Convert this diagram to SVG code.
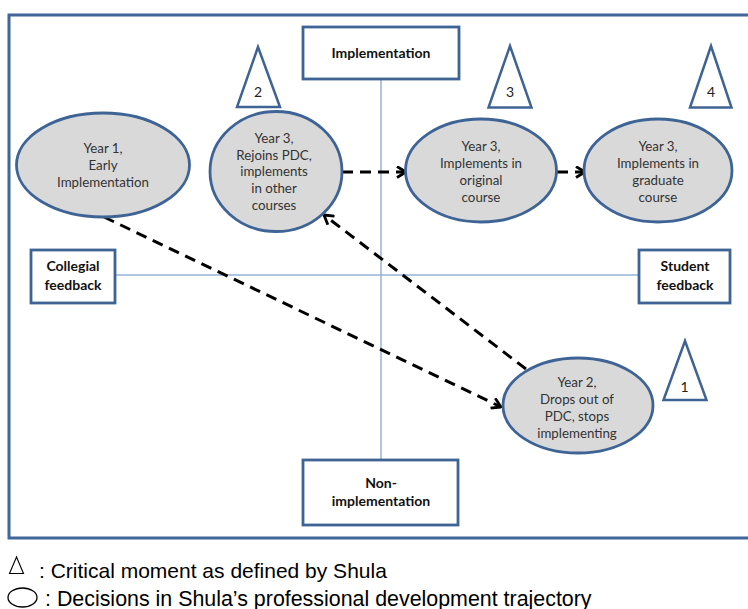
<svg xmlns="http://www.w3.org/2000/svg" width="748" height="609" viewBox="0 0 748 609">
<style>
.frame{fill:none;stroke:#41669b;stroke-width:3}
.axis{stroke:#95b3d7;stroke-width:1.5;fill:none}
.box{fill:#fff;stroke:#3f6494;stroke-width:2.8}
.tri{fill:#fff;stroke:#3f6494;stroke-width:2.5;stroke-linejoin:miter}
.ell{fill:#d9d9d9;stroke:#3e6395;stroke-width:2.8}
.bt{font-family:Lato,"Liberation Sans",sans-serif;font-weight:bold;font-size:14px;fill:#111;text-anchor:middle}
.et{font-family:Lato,"Liberation Sans",sans-serif;font-size:13.3px;fill:#333;text-anchor:middle}
.num{font-family:Lato,"Liberation Sans",sans-serif;font-size:14px;fill:#222;text-anchor:middle}
.conn{fill:none;stroke:#000;stroke-width:3;stroke-dasharray:11 7}
.leg{font-family:"Liberation Sans",Arial,sans-serif;font-size:21px;fill:#000}
</style>
<defs>
<marker id="chev" viewBox="0 0 11 13" refX="10" refY="6.5" markerWidth="11" markerHeight="13" markerUnits="userSpaceOnUse" orient="auto">
<path d="M1,1 L10,6.5 L1,12" fill="none" stroke="#000" stroke-width="2.8"/>
</marker>
</defs>
<rect class="frame" x="9" y="15" width="760" height="523"/>
<g id="axes">
<line class="axis" x1="381" y1="79" x2="381" y2="460"/>
<line class="axis" x1="115" y1="275" x2="639" y2="275"/>
</g>
<g id="connectors">
<line class="conn" x1="342" y1="172" x2="406" y2="172" marker-end="url(#chev)"/>
<line class="conn" x1="557" y1="172" x2="585" y2="172" marker-end="url(#chev)"/>
<line class="conn" x1="104" y1="217" x2="501" y2="407" marker-end="url(#chev)"/>
<line class="conn" x1="526" y1="369" x2="324" y2="215" marker-end="url(#chev)"/>
</g>
<g id="implementation">
<rect class="box" x="303" y="27" width="156" height="52"/>
<text class="bt" x="381" y="57.5">Implementation</text>
</g>
<g id="non-implementation">
<rect class="box" x="303" y="460" width="155" height="65"/>
<text class="bt" x="381" y="487.5">Non-</text>
<text class="bt" x="381" y="506">implementation</text>
</g>
<g id="collegial-feedback">
<rect class="box" x="31" y="250" width="84" height="53"/>
<text class="bt" x="73" y="271">Collegial</text>
<text class="bt" x="73" y="290">feedback</text>
</g>
<g id="student-feedback">
<rect class="box" x="639" y="250" width="91" height="53"/>
<text class="bt" x="685" y="270.5">Student</text>
<text class="bt" x="685" y="289.5">feedback</text>
</g>
<g id="moment-2">
<polygon class="tri" points="258,47 237,107 280,107"/>
<text class="num" x="258" y="97">2</text>
</g>
<g id="moment-3">
<polygon class="tri" points="510,46 488.5,107.5 531.5,107.5"/>
<text class="num" x="510" y="97">3</text>
</g>
<g id="moment-4">
<polygon class="tri" points="711,46 690,107.5 731.5,107.5"/>
<text class="num" x="711" y="97">4</text>
</g>
<g id="moment-1">
<polygon class="tri" points="685,341 663.5,400 706.5,400"/>
<text class="num" x="684.5" y="391.5">1</text>
</g>
<g id="year1">
<ellipse class="ell" cx="103" cy="165" rx="86.5" ry="52"/>
<text class="et" x="103" y="152.5">Year 1,</text>
<text class="et" x="103" y="170">Early</text>
<text class="et" x="103" y="186.5">Implementation</text>
</g>
<g id="year3-rejoins">
<ellipse class="ell" cx="276" cy="171.5" rx="66" ry="60"/>
<text class="et" x="274" y="142.5">Year 3,</text>
<text class="et" x="274" y="159.5">Rejoins PDC,</text>
<text class="et" x="274" y="176">implements</text>
<text class="et" x="274" y="192.5">in other</text>
<text class="et" x="274" y="209.5">courses</text>
</g>
<g id="year3-original">
<ellipse class="ell" cx="481" cy="170.5" rx="75.5" ry="51.5"/>
<text class="et" x="481" y="151">Year 3,</text>
<text class="et" x="481" y="168">Implements in</text>
<text class="et" x="481" y="185">original</text>
<text class="et" x="481" y="202">course</text>
</g>
<g id="year3-graduate">
<ellipse class="ell" cx="658" cy="170.5" rx="74" ry="51.5"/>
<text class="et" x="658" y="151">Year 3,</text>
<text class="et" x="658" y="168">Implements in</text>
<text class="et" x="658" y="185">graduate</text>
<text class="et" x="658" y="202">course</text>
</g>
<g id="year2">
<ellipse class="ell" cx="578" cy="405.5" rx="75" ry="47.5"/>
<text class="et" x="577" y="386.5">Year 2,</text>
<text class="et" x="577" y="403.5">Drops out of</text>
<text class="et" x="577" y="420.5">PDC, stops</text>
<text class="et" x="577" y="437.5">implementing</text>
</g>
<g id="legend">
<polygon points="16.5,557 9.5,573.5 23.5,573.5" fill="none" stroke="#000" stroke-width="1.1"/>
<text class="leg" x="39" y="578">: Critical moment as defined by Shula</text>
<ellipse cx="22.5" cy="597.5" rx="14.5" ry="9.5" fill="none" stroke="#000" stroke-width="1.3"/>
<text class="leg" x="45" y="605.5" style="font-size:21.4px">: Decisions in Shula’s professional development trajectory</text>
</g>
</svg>
